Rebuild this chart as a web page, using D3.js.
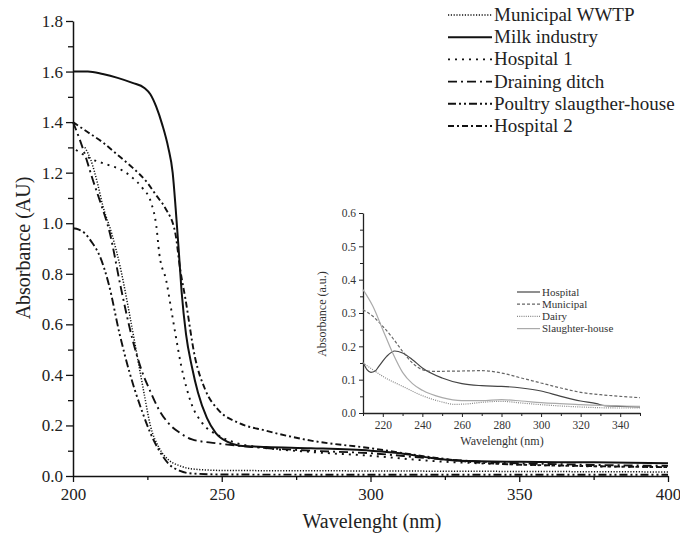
<!DOCTYPE html>
<html>
<head>
<meta charset="utf-8">
<script src="https://cdn.jsdelivr.net/npm/d3@7"></script>
<style>
  body { margin: 0; background: #fff; }
</style>
</head>
<body>
<div id="canvas"></div>
<script>
// main chart series: [wavelength nm, absorbance AU]
const municipalWWTP = [[204,1.30],[206,1.25],[208.4,1.15],[210,1.07],[213,0.96],[216,0.82],[219,0.64],[221.5,0.48],[224,0.32],[226,0.20],[229,0.11],[232,0.065],[236,0.04],[240,0.028],[250,0.022],[300,0.02],[350,0.018],[400,0.016]];
const milkIndustry = [[200,1.60],[205,1.60],[210,1.59],[215,1.575],[220,1.555],[224,1.535],[226,1.51],[228,1.46],[230,1.39],[232,1.30],[233.5,1.20],[234.5,1.06],[235.5,0.90],[236.5,0.73],[238,0.56],[240,0.43],[242,0.33],[245,0.23],[248,0.17],[252,0.135],[256,0.12],[265,0.115],[280,0.11],[300,0.10],[310,0.09],[320,0.072],[330,0.06],[350,0.056],[375,0.054],[400,0.05]];
const hospital1 = [[201,1.29],[206,1.255],[212,1.23],[216.4,1.21],[220,1.18],[223.3,1.14],[226.3,1.08],[228,0.99],[229,0.88],[231.4,0.77],[233,0.66],[234.6,0.55],[236.3,0.44],[237.9,0.36],[240,0.28],[243.4,0.21],[249,0.16],[255,0.13],[262,0.115],[280,0.095],[300,0.08],[320,0.06],[350,0.045],[400,0.035]];
const drainingDitch = [[200,1.40],[202.3,1.33],[204.6,1.25],[206.7,1.17],[209,1.09],[212.4,0.96],[216,0.75],[220,0.54],[223,0.42],[225.8,0.34],[229,0.26],[232,0.21],[236,0.17],[240,0.145],[248,0.13],[260,0.115],[280,0.10],[300,0.09],[320,0.07],[340,0.055],[370,0.045],[400,0.04]];
const poultry = [[200,0.98],[202,0.975],[204,0.96],[206,0.93],[209,0.87],[212,0.76],[215.7,0.56],[219,0.41],[223.4,0.25],[226,0.17],[229,0.10],[232,0.05],[236,0.02],[240,0.01],[250,0.006],[300,0.005],[400,0.005]];
const hospital2 = [[200,1.40],[205,1.36],[210,1.32],[215,1.27],[220,1.22],[225,1.16],[228,1.11],[231,1.06],[234.4,0.96],[236,0.82],[237.8,0.70],[241,0.47],[244.5,0.34],[249,0.26],[255.7,0.21],[264.6,0.18],[280,0.14],[300,0.11],[320,0.075],[340,0.05],[370,0.04],[400,0.035]];

const mainNames = ["Municipal WWTP", "Milk industry", "Hospital 1", "Draining ditch", "Poultry slaugther-house", "Hospital 2"];
const mainSeries = [municipalWWTP, milkIndustry, hospital1, drainingDitch, poultry, hospital2];
const mainDash = ["1.2,1.6", null, "2,5", "9,4,2,4", "8,3,2,3,2,3", "6,3,2,3"];
const mainWidth = [1.5, 2, 1.9, 1.9, 1.9, 1.9];
const xTicks = [200, 250, 300, 350, 400];
const yTicks = [0, 0.2, 0.4, 0.6, 0.8, 1.0, 1.2, 1.4, 1.6, 1.8];

// inset series: [wavelength nm, absorbance a.u.]
const insetHospital = [[210,0.152],[212,0.13],[214,0.122],[216,0.125],[218,0.14],[222,0.17],[226,0.186],[230,0.18],[235,0.16],[240,0.135],[250,0.105],[260,0.088],[270,0.082],[280,0.08],[290,0.075],[300,0.066],[310,0.05],[320,0.036],[328,0.028],[332,0.022],[340,0.02],[350,0.018]];
const insetMunicipal = [[210,0.31],[215,0.29],[220,0.26],[225,0.225],[230,0.185],[235,0.15],[240,0.13],[245,0.125],[260,0.126],[270,0.127],[280,0.12],[290,0.105],[300,0.09],[310,0.075],[320,0.062],[330,0.055],[340,0.05],[350,0.046]];
const insetDairy = [[210,0.15],[215,0.13],[220,0.11],[230,0.08],[240,0.052],[250,0.033],[256,0.026],[262,0.027],[270,0.032],[280,0.035],[290,0.03],[300,0.025],[320,0.018],[340,0.015],[350,0.015]];
const insetSlaughter = [[210,0.37],[215,0.32],[220,0.25],[225,0.18],[230,0.122],[235,0.088],[240,0.068],[250,0.046],[260,0.037],[270,0.037],[280,0.04],[290,0.036],[300,0.031],[320,0.025],[340,0.021],[350,0.02]];

const insetNames = ["Hospital", "Municipal", "Dairy", "Slaughter-house"];
const insetSeries = [insetHospital, insetMunicipal, insetDairy, insetSlaughter];
const insetColor = ["#444", "#666", "#888", "#aaa"];
const insetDash = [null, "3,2", "1,1.2", null];
const insetXTicks = [220, 240, 260, 280, 300, 320, 340];
const insetYTicks = [0, 0.1, 0.2, 0.3, 0.4, 0.5, 0.6];

const width = 680, height = 534;
const serif = "'Liberation Serif', 'Times New Roman', Times, serif";

const svg = d3.select("#canvas").append("svg")
    .attr("width", width)
    .attr("height", height)
    .attr("font-family", serif)
    .style("background", "#fff");

// ---- main chart ----
const x = d3.scaleLinear().domain([200, 400]).range([73, 668]);
const y = d3.scaleLinear().domain([0, 1.8]).range([476, 21]);

const line = d3.line()
    .x(d => x(d[0]))
    .y(d => y(d[1]))
    .curve(d3.curveMonotoneX);

// minor ticks first so the major ones sit on top
svg.append("g")
    .attr("transform", `translate(0,${y(0)})`)
    .call(d3.axisBottom(x).tickValues(d3.range(225, 400, 50)).tickSize(4).tickFormat(""))
    .call(g => g.select(".domain").remove());
svg.append("g")
    .attr("transform", `translate(${x(200)},0)`)
    .call(d3.axisLeft(y).tickValues(d3.range(0.1, 1.8, 0.2)).tickSize(5).tickFormat(""))
    .call(g => g.select(".domain").remove());

const xAxis = svg.append("g")
    .attr("transform", `translate(0,${y(0)})`)
    .call(d3.axisBottom(x).tickValues(xTicks).tickSize(6).tickSizeOuter(0).tickPadding(6));
const yAxis = svg.append("g")
    .attr("transform", `translate(${x(200)},0)`)
    .call(d3.axisLeft(y).tickValues(yTicks).tickSize(7).tickSizeOuter(0).tickFormat(d3.format(".1f")));

svg.selectAll("g").attr("font-family", serif);
svg.selectAll(".tick line").attr("stroke", "#111").attr("stroke-width", 1.3);
svg.selectAll(".domain").attr("stroke", "#111").attr("stroke-width", 1.5);
xAxis.selectAll("text").attr("font-size", 17).attr("fill", "#222");
yAxis.selectAll("text").attr("font-size", 17).attr("fill", "#222");

svg.append("text")
    .attr("x", 372).attr("y", 528)
    .attr("text-anchor", "middle")
    .attr("font-size", 20)
    .attr("fill", "#222")
    .text("Wavelenght (nm)");

svg.append("text")
    .attr("transform", "translate(30,248) rotate(-90)")
    .attr("text-anchor", "middle")
    .attr("font-size", 20)
    .attr("fill", "#222")
    .text("Absorbance (AU)");

svg.append("g").selectAll("path")
    .data(mainSeries)
    .join("path")
    .attr("d", line)
    .attr("fill", "none")
    .attr("stroke", "#111")
    .attr("stroke-width", (d, i) => mainWidth[i])
    .attr("stroke-dasharray", (d, i) => mainDash[i]);

// main legend
const legend = svg.append("g").attr("transform", "translate(448,15)");
mainNames.forEach((name, i) => {
    const row = legend.append("g").attr("transform", `translate(0,${i * 22.2})`);
    row.append("line")
        .attr("x1", 0).attr("x2", 44)
        .attr("stroke", "#111")
        .attr("stroke-width", mainWidth[i])
        .attr("stroke-dasharray", mainDash[i]);
    row.append("text")
        .attr("x", 46).attr("y", 6)
        .attr("font-size", 19)
        .attr("fill", "#222")
        .text(name);
});

// ---- inset ----
const ix = d3.scaleLinear().domain([210, 350]).range([363, 640]);
const iy = d3.scaleLinear().domain([0, 0.6]).range([413, 213]);

const insetLine = d3.line()
    .x(d => ix(d[0]))
    .y(d => iy(d[1]))
    .curve(d3.curveMonotoneX);

const inset = svg.append("g");

inset.append("g")
    .attr("transform", `translate(0,${iy(0)})`)
    .call(d3.axisBottom(ix).tickValues(d3.range(210, 351, 20)).tickSize(3).tickFormat(""))
    .call(g => g.select(".domain").remove());
inset.append("g")
    .attr("transform", `translate(${ix(210)},0)`)
    .call(d3.axisLeft(iy).tickValues(d3.range(0.05, 0.6, 0.1)).tickSize(3).tickFormat(""))
    .call(g => g.select(".domain").remove());

const ixAxis = inset.append("g")
    .attr("transform", `translate(0,${iy(0)})`)
    .call(d3.axisBottom(ix).tickValues(insetXTicks).tickSize(4).tickSizeOuter(0).tickPadding(4));
const iyAxis = inset.append("g")
    .attr("transform", `translate(${ix(210)},0)`)
    .call(d3.axisLeft(iy).tickValues(insetYTicks).tickSize(4).tickSizeOuter(0).tickPadding(3).tickFormat(d3.format(".1f")));

inset.selectAll("g").attr("font-family", serif);
inset.selectAll(".tick line").attr("stroke", "#222").attr("stroke-width", 1);
inset.selectAll(".domain").attr("stroke", "#222").attr("stroke-width", 1.3);
ixAxis.selectAll("text").attr("font-size", 11.5).attr("fill", "#333");
iyAxis.selectAll("text").attr("font-size", 11.5).attr("fill", "#333");

inset.append("text")
    .attr("x", 502).attr("y", 445)
    .attr("text-anchor", "middle")
    .attr("font-size", 12)
    .attr("fill", "#333")
    .text("Wavelenght (nm)");

inset.append("text")
    .attr("transform", "translate(326,314) rotate(-90)")
    .attr("text-anchor", "middle")
    .attr("font-size", 12)
    .attr("fill", "#333")
    .text("Absorbance (a.u.)");

inset.append("g").selectAll("path")
    .data(insetSeries)
    .join("path")
    .attr("d", insetLine)
    .attr("fill", "none")
    .attr("stroke", (d, i) => insetColor[i])
    .attr("stroke-width", 1.2)
    .attr("stroke-dasharray", (d, i) => insetDash[i]);

const insetLegend = inset.append("g").attr("transform", "translate(517,292)");
insetNames.forEach((name, i) => {
    const row = insetLegend.append("g").attr("transform", `translate(0,${i * 12.2})`);
    row.append("line")
        .attr("x1", 0).attr("x2", 23)
        .attr("stroke", insetColor[i])
        .attr("stroke-width", 1.2)
        .attr("stroke-dasharray", insetDash[i]);
    row.append("text")
        .attr("x", 25).attr("y", 3.5)
        .attr("font-size", 11)
        .attr("fill", "#333")
        .text(name);
});
</script>
</body>
</html>
